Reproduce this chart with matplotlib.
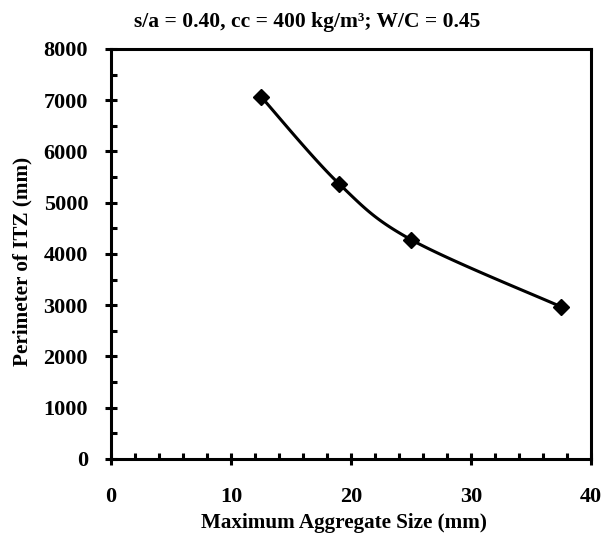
import numpy as np
import matplotlib
matplotlib.use("Agg")
import matplotlib.pyplot as plt
from matplotlib.ticker import MultipleLocator

# data
agg_size = [12.5, 19, 25, 37.5]          # mm
itz_perimeter = [7070, 5370, 4280, 2970]  # mm

plt.rcParams['font.family'] = ['Liberation Serif', 'DejaVu Serif']
plt.rcParams['font.weight'] = 'bold'


def excel_smooth(x, y, n=40, t=1/6):
    # Catmull-Rom style bezier, like Excel's smoothed line
    x = np.asarray(x, float)
    y = np.asarray(y, float)
    px, py = [], []
    for i in range(len(x) - 1):
        x0, y0 = (x[i - 1], y[i - 1]) if i > 0 else (x[i], y[i])
        x3, y3 = (x[i + 2], y[i + 2]) if i + 2 < len(x) else (x[i + 1], y[i + 1])
        c1 = (x[i] + (x[i + 1] - x0) * t, y[i] + (y[i + 1] - y0) * t)
        c2 = (x[i + 1] - (x3 - x[i]) * t, y[i + 1] - (y3 - y[i]) * t)
        s = np.linspace(0, 1, n)
        bx = (1-s)**3*x[i] + 3*(1-s)**2*s*c1[0] + 3*(1-s)*s**2*c2[0] + s**3*x[i+1]
        by = (1-s)**3*y[i] + 3*(1-s)**2*s*c1[1] + 3*(1-s)*s**2*c2[1] + s**3*y[i+1]
        px.extend(bx)
        py.extend(by)
    return px, py


fig = plt.figure(figsize=(6.05, 5.37), dpi=100)
ax = fig.add_axes([0.1835, 0.1453, 0.7934, 0.7635])

sx, sy = excel_smooth(agg_size, itz_perimeter)
ax.plot(sx, sy, color='black', lw=2.2, zorder=3)
ax.plot(agg_size, itz_perimeter, 'D', color='black', ms=8, zorder=4)

ax.set_xlim(0, 40)
ax.set_ylim(0, 8000)
ax.xaxis.set_major_locator(MultipleLocator(10))
ax.xaxis.set_minor_locator(MultipleLocator(2))
ax.yaxis.set_major_locator(MultipleLocator(1000))
ax.yaxis.set_minor_locator(MultipleLocator(500))
ax.tick_params(which='major', direction='inout', length=9, width=2.2, labelsize=16)
ax.tick_params(axis='x', which='major', pad=16)
ax.tick_params(axis='y', which='major', pad=12)
ax.tick_params(which='minor', direction='in', length=4, width=2.2)
ax.tick_params(top=False, right=False, which='both')
for s in ax.spines.values():
    s.set_linewidth(2.2)

ax.set_xlabel('Maximum Aggregate Size (mm)', fontsize=15.2, fontweight='bold')
ax.xaxis.set_label_coords(0.485, -0.132)
ax.set_ylabel('Perimeter of ITZ (mm)', fontsize=15.2, fontweight='bold', va='center')
ax.yaxis.set_label_coords(-0.185, 0.483)
fig.text(0.507, 0.959, 's/a = 0.40, cc = 400 kg/m³; W/C = 0.45', ha='center', va='center',
         fontsize=15.5, fontweight='bold')

fig.savefig('out.png', dpi=100)
